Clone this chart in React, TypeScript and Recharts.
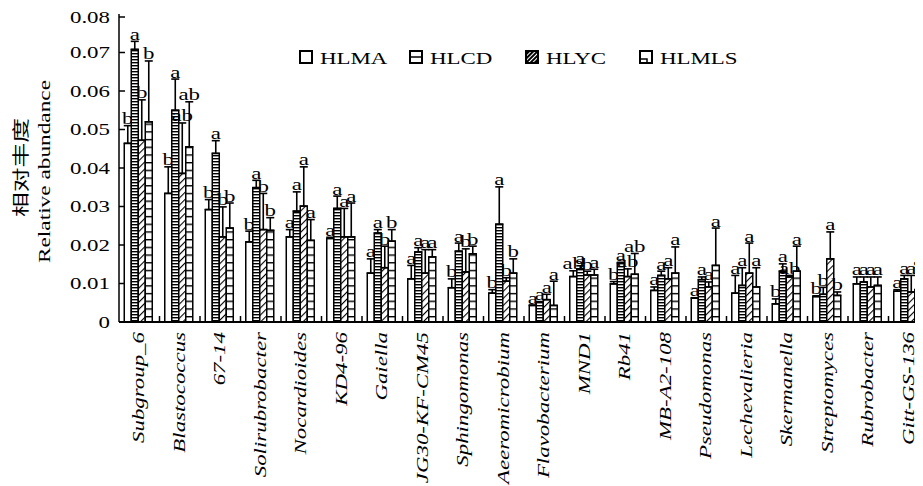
import React from 'react';
import { BarChart, Bar, XAxis, YAxis, ErrorBar, Legend } from 'recharts';

const genera = ['Subgroup_6', 'Blastococcus', '67-14', 'Solirubrobacter', 'Nocardioides', 'KD4-96', 'Gaiella', 'JG30-KF-CM45', 'Sphingomonas', 'Aeeromicrobium', 'Flavobacterium', 'MND1', 'Rb41', 'MB-A2-108', 'Pseudomonas', 'Lechevalieria', 'Skermanella', 'Streptomyces', 'Rubrobacter', 'Gitt-GS-136'];
const seriesNames = ['HLMA', 'HLCD', 'HLYC', 'HLMLS'];

const hlma = [0.0464, 0.0334, 0.0292, 0.0208, 0.0221, 0.0217, 0.0127, 0.0112, 0.0089, 0.0075, 0.0043, 0.0118, 0.0099, 0.0082, 0.0062, 0.0075, 0.0047, 0.0066, 0.0099, 0.0080];
const hlcd = [0.0708, 0.0550, 0.0438, 0.0349, 0.0288, 0.0295, 0.0231, 0.0182, 0.0184, 0.0254, 0.0052, 0.0138, 0.0153, 0.0121, 0.0110, 0.0095, 0.0132, 0.0072, 0.0104, 0.0112];
const hlyc = [0.0472, 0.0386, 0.0221, 0.0240, 0.0301, 0.0221, 0.0141, 0.0127, 0.0130, 0.0106, 0.0058, 0.0122, 0.0118, 0.0112, 0.0091, 0.0127, 0.0117, 0.0164, 0.0091, 0.0078];
const hlmls = [0.0520, 0.0455, 0.0244, 0.0238, 0.0212, 0.0221, 0.0210, 0.0169, 0.0177, 0.0127, 0.0043, 0.0122, 0.0124, 0.0127, 0.0147, 0.0091, 0.0132, 0.0069, 0.0095, 0.0084];

const errMA = [0.0046, 0.0069, 0.0026, 0.0028, 0.0019, 0.0003, 0.0037, 0.0035, 0.0023, 0.0009, 0.0001, 0.0015, 0.0006, 0.0009, 0.0001, 0.0046, 0.0013, 0.0002, 0.0018, 0.0004];
const errCD = [0.0021, 0.0081, 0.0033, 0.0019, 0.0050, 0.0032, 0.0009, 0.0011, 0.0021, 0.0097, 0.0001, 0.0008, 0.0002, 0.0011, 0.0007, 0.0046, 0.0019, 0.0018, 0.0013, 0.0009];
const errYC = [0.0105, 0.0131, 0.0078, 0.0094, 0.0102, 0.0074, 0.0056, 0.0061, 0.0060, 0.0009, 0.0014, 0.0010, 0.0020, 0.0029, 0.0013, 0.0078, 0.0004, 0.0070, 0.0026, 0.0043];
const errMLS = [0.0158, 0.0117, 0.0065, 0.0033, 0.0054, 0.0088, 0.0030, 0.0019, 0.0020, 0.0037, 0.0063, 0.0015, 0.0054, 0.0068, 0.0097, 0.0050, 0.0065, 0.0009, 0.0022, 0.0057];

const ltMA = ['b', 'b', 'b', 'b', 'a', 'a', 'a', 'a', 'b', 'b', 'a', 'ab', 'b', 'a', 'a', 'a', 'b', 'b', 'a', 'a'];
const ltCD = ['a', 'a', 'a', 'a', 'a', 'a', 'a', 'a', 'a', 'a', 'a', 'a', 'a', 'a', 'a', 'a', 'a', 'b', 'a', 'a'];
const ltYC = ['b', 'ab', 'b', 'b', 'a', 'a', 'b', 'a', 'b', 'b', 'a', 'b', 'ab', 'a', 'a', 'a', 'ab', 'a', 'a', 'a'];
const ltMLS = ['b', 'ab', 'b', 'b', 'a', 'a', 'b', 'a', 'b', 'b', 'a', 'a', 'ab', 'a', 'a', 'a', 'a', 'b', 'a', 'a'];

const yTicks = [0, 0.01, 0.02, 0.03, 0.04, 0.05, 0.06, 0.07, 0.08];
const yTitleCn = '相对丰度';
const yTitleEn = 'Relative abundance';

const data = genera.map((g, i) => ({
  genus: g,
  HLMA: hlma[i], HLCD: hlcd[i], HLYC: hlyc[i], HLMLS: hlmls[i],
  eMA: errMA[i], eCD: errCD[i], eYC: errYC[i], eMLS: errMLS[i],
  lMA: ltMA[i], lCD: ltCD[i], lYC: ltYC[i], lMLS: ltMLS[i],
}));

const SERIF = '"Liberation Serif", "Times New Roman", serif';
const CJK = '"Noto Sans CJK SC", sans-serif';
const SX = 1.43;

function makeShape(valKey: string, errKey: string, letKey: string, fill: string) {
  return (props: any) => {
    const { x, y, width, height, payload } = props;
    const v = payload[valKey];
    const per = v > 0 ? height / v : 0;
    const top = y - payload[errKey] * per;
    const cx = x + width / 2;
    return (
      <g>
        <rect x={x} y={y} width={width} height={height} fill={fill} stroke="#000" strokeWidth={1.5} />
        <text transform={`translate(${cx},${top - 1.5}) scale(${SX},1)`} textAnchor="middle" fontFamily={SERIF} fontSize={16} fill="#000">
          {payload[letKey]}
        </text>
      </g>
    );
  };
}

const XTick = (props: any) => {
  const { x, y, payload } = props;
  const half = payload && payload.offset ? payload.offset : 20.25;
  return (
    <g>
      <line x1={x + half} y1={y} x2={x + half} y2={y - 6} stroke="#000" strokeWidth={1.5} />
      <text transform={`translate(${x + 5},${y + 10}) rotate(-90) scale(${SX},1)`} textAnchor="end" fontFamily={SERIF} fontStyle="italic" fontSize={16} fill="#000">
        {payload.value}
      </text>
    </g>
  );
};

const YTick = (props: any) => {
  const { x, y, payload } = props;
  const v = payload.value;
  const label = v === 0 ? '0' : Number(v).toFixed(2);
  return (
    <g>
      <line x1={x} y1={y} x2={x + 6} y2={y} stroke="#000" strokeWidth={1.5} />
      <text transform={`translate(${x - 9},${y + 5.5}) scale(${SX},1)`} textAnchor="end" fontFamily={SERIF} fontSize={16} fill="#000">
        {label}
      </text>
    </g>
  );
};

const legendIconX = [5, 115, 231, 345];

const LegendIcon = ({ i, x }: { i: number; x: number }) => {
  const y = 6;
  const s = 12;
  if (i === 0) return <rect x={x} y={y} width={s} height={s} fill="#fff" stroke="#000" strokeWidth={2} />;
  if (i === 1)
    return (
      <g>
        <rect x={x} y={y} width={s} height={s} fill="#fff" stroke="#000" strokeWidth={2} />
        <line x1={x} y1={y + s / 2} x2={x + s} y2={y + s / 2} stroke="#000" strokeWidth={1.5} />
      </g>
    );
  if (i === 2) return <rect x={x} y={y} width={s} height={s} fill="url(#pYCleg)" stroke="#000" strokeWidth={2} />;
  return (
    <g>
      <rect x={x} y={y} width={s} height={s} fill="#fff" stroke="#000" strokeWidth={2} />
      <path d={`M${x} ${y + 8} H${x + 7} V${y + s}`} fill="none" stroke="#000" strokeWidth={1.5} />
    </g>
  );
};

const LegendContent = () => (
  <svg width={460} height={26}>
    {seriesNames.map((name: string, i: number) => (
      <g key={name}>
        <LegendIcon i={i} x={legendIconX[i]} />
        <text transform={`translate(${legendIconX[i] + 20},19) scale(${SX},1)`} fontFamily={SERIF} fontSize={16} fill="#000">
          {name}
        </text>
      </g>
    ))}
  </svg>
);

export default function App() {
  return (
    <div style={{ width: 915, overflow: 'hidden', position: 'relative' }}>
      <svg width={0} height={0} style={{ position: 'absolute' }}>
        <defs>
          <pattern id="pCD" patternUnits="userSpaceOnUse" width={4} height={3}>
            <rect width={4} height={3} fill="#fff" />
            <rect width={4} height={1.4} fill="#000" />
          </pattern>
          <pattern id="pYC" patternUnits="userSpaceOnUse" width={5} height={5} patternTransform="rotate(45)">
            <rect width={5} height={5} fill="#fff" />
            <rect width={1.1} height={5} fill="#000" />
          </pattern>
          <pattern id="pMLS" patternUnits="userSpaceOnUse" width={10} height={7.7}>
            <rect width={10} height={7.7} fill="#fff" />
            <rect width={10} height={1.4} fill="#000" />
          </pattern>
          <pattern id="pYCleg" patternUnits="userSpaceOnUse" width={3} height={3} patternTransform="rotate(45)">
            <rect width={3} height={3} fill="#000" />
            <rect width={1} height={3} fill="#fff" />
          </pattern>
        </defs>
      </svg>
      <BarChart
        width={925}
        height={478}
        data={data}
        margin={{ top: 6, right: 4, left: 0, bottom: 0 }}
        barCategoryGap="13%"
        barGap={0}
      >
        <XAxis
          dataKey="genus"
          interval={0}
          height={164}
          tick={(p: any) => <XTick {...p} />}
          tickLine={false}
          tickSize={0}
          tickMargin={0}
          axisLine={{ stroke: '#000', strokeWidth: 2 }}
        />
        <YAxis
          domain={[0, 0.08]}
          ticks={yTicks}
          width={111}
          tick={(p: any) => <YTick {...p} />}
          tickLine={false}
          tickSize={0}
          tickMargin={0}
          axisLine={{ stroke: '#000', strokeWidth: 1.5 }}
        />
        <Legend
          content={<LegendContent />}
          layout="horizontal"
          verticalAlign="middle"
          align="center"
          wrapperStyle={{ position: 'absolute', left: 287, top: 37, width: 460, height: 26 }}
        />
        <Bar dataKey="HLMA" isAnimationActive={false} shape={makeShape('HLMA', 'eMA', 'lMA', '#fff')}>
          <ErrorBar dataKey={(d: any) => [0, d.eMA]} width={4} strokeWidth={1.6} stroke="#000" direction="y" />
        </Bar>
        <Bar dataKey="HLCD" isAnimationActive={false} shape={makeShape('HLCD', 'eCD', 'lCD', 'url(#pCD)')}>
          <ErrorBar dataKey={(d: any) => [0, d.eCD]} width={4} strokeWidth={1.6} stroke="#000" direction="y" />
        </Bar>
        <Bar dataKey="HLYC" isAnimationActive={false} shape={makeShape('HLYC', 'eYC', 'lYC', 'url(#pYC)')}>
          <ErrorBar dataKey={(d: any) => [0, d.eYC]} width={4} strokeWidth={1.6} stroke="#000" direction="y" />
        </Bar>
        <Bar dataKey="HLMLS" isAnimationActive={false} shape={makeShape('HLMLS', 'eMLS', 'lMLS', 'url(#pMLS)')}>
          <ErrorBar dataKey={(d: any) => [0, d.eMLS]} width={4} strokeWidth={1.6} stroke="#000" direction="y" />
        </Bar>
      </BarChart>
      <svg width={60} height={320} style={{ position: 'absolute', left: 0, top: 0, pointerEvents: 'none' }}>
        <text
          x={0}
          y={0}
          transform="translate(19,159.5) rotate(-90)"
          textAnchor="middle"
          fontFamily={CJK}
          fontSize={17}
          textLength={99}
          lengthAdjust="spacingAndGlyphs"
          fill="#000"
        >
          {yTitleCn}
        </text>
        <text
          x={0}
          y={0}
          transform="translate(42,163.5) rotate(-90)"
          textAnchor="middle"
          fontFamily={SERIF}
          fontSize={16}
          textLength={183}
          lengthAdjust="spacingAndGlyphs"
          fill="#000"
        >
          {yTitleEn}
        </text>
      </svg>
    </div>
  );
}
